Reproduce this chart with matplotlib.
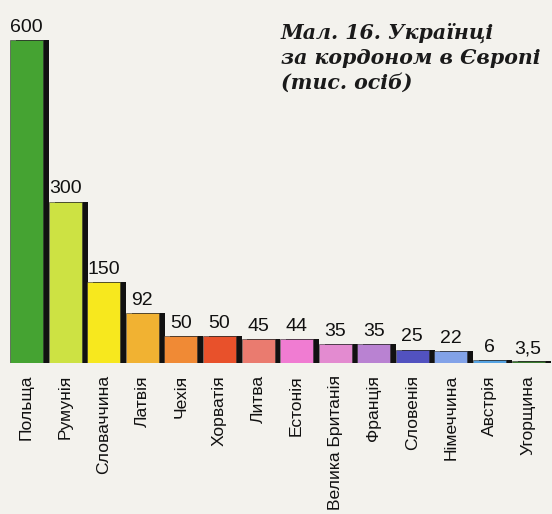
import matplotlib
matplotlib.use("Agg")
import matplotlib.pyplot as plt

countries = ["Польща", "Румунія", "Словаччина", "Латвія", "Чехія", "Хорватія", "Литва",
             "Естонія", "Велика Британія", "Франція", "Словенія", "Німеччина", "Австрія", "Угорщина"]
values = [600, 300, 150, 92, 50, 50, 45, 44, 35, 35, 25, 22, 6, 3.5]
value_labels = ["600", "300", "150", "92", "50", "50", "45", "44", "35", "35", "25", "22", "6", "3,5"]
colors = ["#45a332", "#cde243", "#f7e81e", "#f1b232", "#f08a35", "#e8512b", "#ea7b6f",
          "#f07cd2", "#e38bd0", "#b982d2", "#5252c0", "#82a2e8", "#55a3e2", "#3b7b30"]

W, H, DPI = 552, 514, 100
fig = plt.figure(figsize=(W / DPI, H / DPI), dpi=DPI)
fig.patch.set_facecolor("#f3f2ed")

ax = fig.add_axes([3.3 / W, 151 / H, 548 / W, 344.5 / H])
ax.set_facecolor("none")

x = list(range(len(countries)))
bw = 0.855
shadow = 0.155
ax.bar([i + shadow for i in x], values, width=bw, color="#111111", zorder=1)
ax.bar(x, values, width=bw, color=colors, edgecolor="#333333", linewidth=0.4, zorder=2)

for i, (v, lab) in enumerate(zip(values, value_labels)):
    ax.annotate(lab, (i, v), xytext=(0, 5.8), textcoords="offset points",
                ha="center", va="baseline", fontsize=14, family="Liberation Sans",
                color="#111111")

ax.set_xlim(-0.6, 13.6)
ax.set_ylim(0, 640)
ax.set_xticks(x)
ax.set_xticklabels(countries, rotation=90, fontsize=12.6, family="Liberation Sans",
                   color="#111111", va="top", ha="center")
ax.tick_params(axis="x", length=0, pad=8.6)
ax.set_yticks([])
for s in ax.spines.values():
    s.set_visible(False)

fig.text(281 / W, 1 - 23 / H, "Мал. 16. Українці\nза кордоном в Європі\n(тис. осіб)",
         ha="left", va="top", fontsize=14.8, family="DejaVu Serif", style="italic",
         weight="bold", linespacing=1.3, color="#1a1a1a")

fig.savefig("out.png", dpi=DPI, facecolor=fig.get_facecolor())
